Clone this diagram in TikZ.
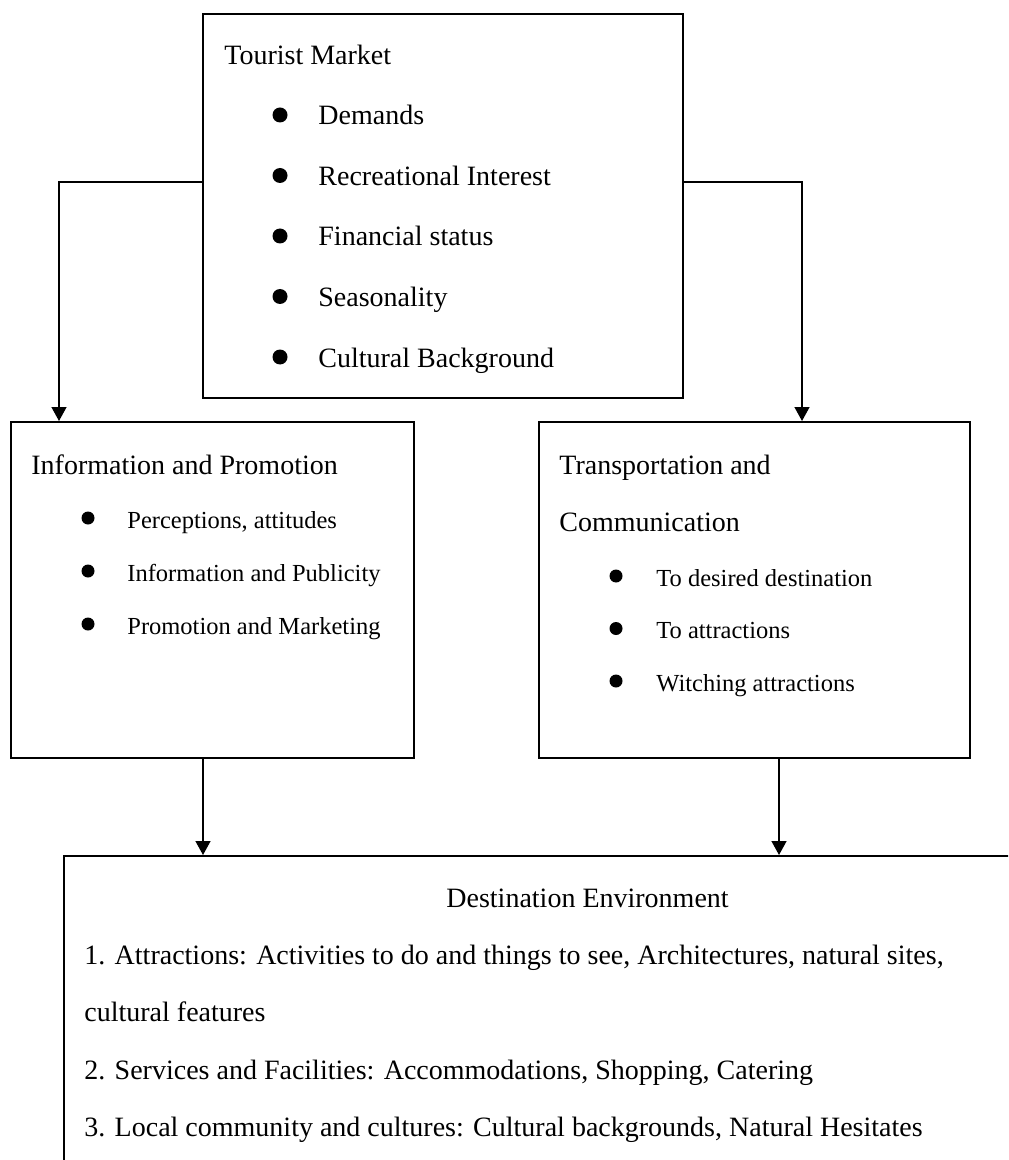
\documentclass[tikz,border=0pt]{standalone}
\usepackage{fontspec}
\setmainfont{Liberation Serif}
\usetikzlibrary{arrows.meta, positioning, calc}

\begin{document}
\begin{tikzpicture}[
        x=0.5pt,
        y=-0.5pt,
        box/.style={draw=black, line width=1pt, inner sep=0pt},
        boxtitle/.style={anchor=base west, inner sep=0pt, font=\fontsize{14pt}{17pt}\selectfont},
        listtext/.style={anchor=base west, inner sep=0pt, font=\fontsize{14pt}{17pt}\selectfont},
        smalltext/.style={anchor=base west, inner sep=0pt, font=\fontsize{12.25pt}{15pt}\selectfont},
        bulletdot/.style={circle, fill=black, inner sep=0pt, minimum size=7.5pt},
        smalldot/.style={circle, fill=black, inner sep=0pt, minimum size=6.5pt},
        link/.style={line width=0.7pt, -{Triangle[width=7.5pt, length=7pt]}}
    ]
        \clip (0,0) rectangle (1008,1160);

        % the four boxes
        \node[box, minimum width=240pt, minimum height=192pt] (market) at (443,206) {};
        \node[box, minimum width=201.5pt, minimum height=168pt] (promo) at (212.5,590) {};
        \node[box, minimum width=215.5pt, minimum height=168pt] (trans) at (754.5,590) {};
        \node[box, minimum width=522pt, minimum height=162pt] (dest) at (586,1018) {};

        % Tourist Market
        \node[boxtitle] (markettitle) at (224,65) {Tourist Market};
        \foreach \t [count=\i] in {Demands, Recreational Interest, Financial status, Seasonality, Cultural Background} {
            \node[bulletdot] (marketdot\i) at (280,{115+60.5*(\i-1)}) {};
            \node[listtext] (marketitem\i) at (318,{125+60.5*(\i-1)}) {\t};
        }

        % Information and Promotion
        \node[boxtitle] (promotitle) at (31,474) {Information and Promotion};
        \foreach \t [count=\i] in {{Perceptions, attitudes}, Information and Publicity, Promotion and Marketing} {
            \node[smalldot] (promodot\i) at (88,{518+53*(\i-1)}) {};
            \node[smalltext] (promoitem\i) at (127,{528+53*(\i-1)}) {\t};
        }

        % Transportation and Communication
        \node[boxtitle] (transtitle) at (559,474) {Transportation and};
        \node[boxtitle] (transtitleb) at (559,531) {Communication};
        \foreach \t [count=\i] in {To desired destination, To attractions, Witching attractions} {
            \node[smalldot] (transdot\i) at (616,{576+52.5*(\i-1)}) {};
            \node[smalltext] (transitem\i) at (656,{586+52.5*(\i-1)}) {\t};
        }

        % Destination Environment
        \node[boxtitle] (desttitle) at (446,907) {Destination Environment};
        \foreach \t [count=\i] in {{1. Attractions: Activities to do and things to see, Architectures, natural sites,}, cultural features, {2. Services and Facilities: Accommodations, Shopping, Catering}, {3. Local community and cultures: Cultural backgrounds, Natural Hesitates}} {
            \node[listtext] (destline\i) at (84,{964+57.5*(\i-1)}) {\t};
        }

        % connectors
        \coordinate (lturn) at (59,182);
        \coordinate (rturn) at (802,182);
        \coordinate (ldrop) at (203,0);
        \coordinate (rdrop) at (779,0);
        \draw[link] (market.west |- lturn) -| (promo.north -| lturn);
        \draw[link] (market.east |- rturn) -| (trans.north -| rturn);
        \draw[link] (promo.south -| ldrop) -- (dest.north -| ldrop);
        \draw[link] (trans.south -| rdrop) -- (dest.north -| rdrop);
    \end{tikzpicture}
\end{document}
